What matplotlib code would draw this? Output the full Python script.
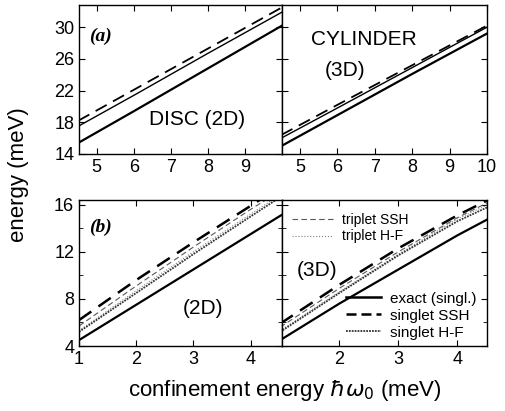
import matplotlib
matplotlib.use("Agg")
import matplotlib.pyplot as plt
from matplotlib.lines import Line2D

plt.rcParams['font.family'] = ['Liberation Sans', 'DejaVu Sans']

# (a) panels: confinement energy 4.5..10 meV
x_a = [4.5, 6, 8, 10]
disc_ssh = [18.2, 22.1, 27.3, 32.5]
disc_hf = [17.5, 21.4, 26.7, 31.9]
disc_exact = [15.4, 19.4, 24.8, 30.2]
cyl_ssh = [16.4, 20.2, 25.2, 30.2]
cyl_hf = [16.0, 19.8, 24.9, 30.0]
cyl_exact = [15.0, 18.9, 24.1, 29.2]

# (b) panels: confinement energy 1..4.5 meV
x_b = [1, 2, 3, 4, 4.6]
d2_sing_ssh = [6.2, 9.6, 12.8, 15.9, 17.8]
d2_trip_ssh = [5.7, 9.1, 12.4, 15.6, 17.4]
d2_trip_hf = [5.3, 8.7, 12.0, 15.2, 17.1]
d2_sing_hf = [5.2, 8.5, 11.8, 15.0, 16.9]
d2_exact = [4.5, 7.5, 10.5, 13.5, 15.3]
d3_sing_ssh = [5.9, 9.2, 12.3, 15.1, 16.6]
d3_trip_ssh = [5.6, 8.9, 12.0, 14.9, 16.4]
d3_trip_hf = [5.3, 8.6, 11.8, 14.8, 16.2]
d3_sing_hf = [5.2, 8.5, 11.7, 14.6, 16.0]
d3_exact = [4.5, 7.6, 10.5, 13.4, 15.0]

fig = plt.figure(figsize=(5.05, 4.11), dpi=100)
W, H = 505, 411

def make_ax(x0, x1, y0, y1):
    return fig.add_axes([x0 / W, 1 - y1 / H, (x1 - x0) / W, (y1 - y0) / H])

ax1 = make_ax(79, 282, 5, 154)
ax2 = make_ax(282, 487, 5, 154)
ax3 = make_ax(79, 282, 200, 346)
ax4 = make_ax(282, 487, 200, 346)

for ax in (ax1, ax2, ax3, ax4):
    ax.tick_params(direction='in', top=True, right=True, labelsize=13,
                   length=4, width=0.8)
    ax.tick_params(which='minor', direction='in', top=True, right=True, length=3)
    for s in ax.spines.values():
        s.set_linewidth(1.0)

# top panels
ax1.plot(x_a, disc_ssh, 'k', lw=1.3, dashes=(7, 4))
ax1.plot(x_a, disc_hf, 'k', lw=1.0)
ax1.plot(x_a, disc_exact, 'k', lw=1.6)
ax2.plot(x_a, cyl_ssh, 'k', lw=1.3, dashes=(7, 4))
ax2.plot(x_a, cyl_hf, 'k', lw=1.0)
ax2.plot(x_a, cyl_exact, 'k', lw=1.6)
for ax in (ax1, ax2):
    ax.set_xlim(4.52, 10)
    ax.set_ylim(14, 32.8)
    ax.set_yticks([14, 18, 22, 26, 30])
ax1.set_xticks([5, 6, 7, 8, 9])
ax2.set_xticks([5, 6, 7, 8, 9, 10])
ax2.set_yticklabels([])

# bottom panels
for ax, ys in ((ax3, (d2_sing_ssh, d2_trip_ssh, d2_trip_hf, d2_sing_hf, d2_exact)),
               (ax4, (d3_sing_ssh, d3_trip_ssh, d3_trip_hf, d3_sing_hf, d3_exact))):
    ax.plot(x_b, ys[0], 'k', lw=1.8, dashes=(6, 3.5))
    ax.plot(x_b, ys[1], color='0.35', lw=0.8, dashes=(5, 3))
    ax.plot(x_b, ys[2], color='0.5', lw=0.8, ls=':')
    ax.plot(x_b, ys[3], color='0.2', lw=1.3, dashes=(1, 0.6))
    ax.plot(x_b, ys[4], 'k', lw=1.6)
    ax.set_ylim(4, 16.4)
    ax.set_yticks([4, 8, 12, 16])
    ax.set_yticks([6, 10, 14], minor=True)
ax3.set_xlim(1, 4.55)
ax3.set_xticks([1, 2, 3, 4])
ax4.set_xlim(1.03, 4.5)
ax4.set_xticks([2, 3, 4])
ax4.set_yticklabels([])

# texts
ax1.text(0.05, 0.79, '(a)', transform=ax1.transAxes, fontsize=14,
         fontweight='bold', style='italic', family='Liberation Serif',
         va='center')
ax1.text(0.58, 0.23, 'DISC (2D)', transform=ax1.transAxes, fontsize=15,
         ha='center', va='center')
ax2.text(0.4, 0.77, 'CYLINDER', transform=ax2.transAxes, fontsize=15,
         ha='center', va='center')
ax2.text(0.31, 0.56, '(3D)', transform=ax2.transAxes, fontsize=15,
         ha='center', va='center')
ax3.text(0.05, 0.815, '(b)', transform=ax3.transAxes, fontsize=14,
         fontweight='bold', style='italic', family='Liberation Serif',
         va='center')
ax3.text(0.61, 0.26, '(2D)', transform=ax3.transAxes, fontsize=15,
         ha='center', va='center')
ax4.text(0.17, 0.52, '(3D)', transform=ax4.transAxes, fontsize=15,
         ha='center', va='center')

h_trip = [Line2D([], [], color='0.35', lw=0.8, dashes=(5, 3)),
          Line2D([], [], color='0.5', lw=0.8, ls=':')]
leg1 = ax4.legend(h_trip, ['triplet SSH', 'triplet H-F'], loc='upper left',
                  bbox_to_anchor=(0.0, 0.98), frameon=False, fontsize=10,
                  handlelength=3.0, handletextpad=0.6, labelspacing=0.2,
                  borderaxespad=0.3)
ax4.add_artist(leg1)
h_sing = [Line2D([], [], color='k', lw=1.8),
          Line2D([], [], color='k', lw=1.8, dashes=(4, 2)),
          Line2D([], [], color='0.2', lw=1.3, dashes=(1, 0.6))]
ax4.legend(h_sing, ['exact (singl.)', 'singlet SSH', 'singlet H-F'],
           loc='lower right', bbox_to_anchor=(1.0, -0.03), frameon=False,
           fontsize=11, handlelength=2.3, handletextpad=0.6,
           labelspacing=0.2, borderaxespad=0.3)

fig.text(19 / W, 0.574, 'energy (meV)', rotation=90, fontsize=16,
         ha='center', va='center')
fig.text(285 / W, 1 - 390 / H, r'confinement energy $\hbar\omega_0$ (meV)',
         fontsize=16, ha='center', va='center')

fig.savefig('out.png', dpi=100)
